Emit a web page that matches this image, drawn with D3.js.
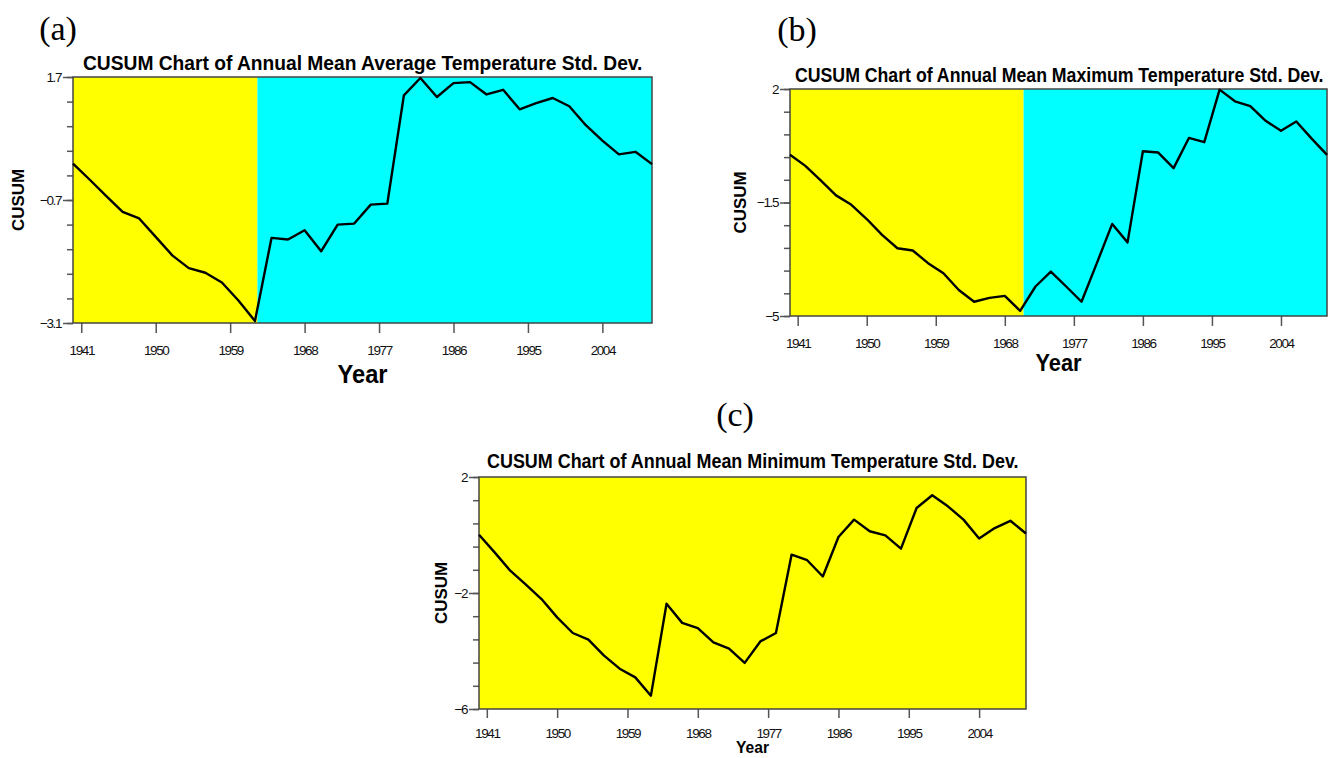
<!DOCTYPE html>
<html>
<head>
<meta charset="utf-8">
<script src="https://cdn.jsdelivr.net/npm/d3@7"></script>
<style>
  body { margin: 0; background: #fff; }
  svg { display: block; }
</style>
</head>
<body>
<div id="chart"></div>
<script>
const YELLOW = "#ffff00";
const CYAN = "#00ffff";
const AXIS = "#555";

// years sampled every two years
const years = [1940, 1942, 1944, 1946, 1948, 1950, 1952, 1954, 1956, 1958,
               1960, 1962, 1964, 1966, 1968, 1970, 1972, 1974, 1976, 1978,
               1980, 1982, 1984, 1986, 1988, 1990, 1992, 1994, 1996, 1998,
               2000, 2002, 2004, 2006, 2008, 2010];

const avgCusum = [0.01, -0.30, -0.62, -0.93, -1.06, -1.42, -1.78, -2.03, -2.12, -2.31,
                  -2.66, -3.06, -1.44, -1.47, -1.29, -1.70, -1.18, -1.16, -0.79, -0.77,
                  1.34, 1.68, 1.31, 1.58, 1.60, 1.36, 1.45, 1.07, 1.19, 1.29,
                  1.13, 0.76, 0.46, 0.19, 0.24, 0.00];

const maxCusum = [-0.03, -0.37, -0.82, -1.28, -1.57, -2.01, -2.50, -2.91, -2.98, -3.37,
                  -3.68, -4.20, -4.56, -4.44, -4.38, -4.84, -4.09, -3.63, -4.09, -4.56,
                  -3.37, -2.16, -2.73, 0.08, 0.04, -0.44, 0.49, 0.36, 1.98, 1.62,
                  1.47, 1.02, 0.71, 1.00, 0.47, -0.03];

const minCusum = [0.01, -0.60, -1.23, -1.71, -2.21, -2.84, -3.38, -3.61, -4.16, -4.61,
                  -4.91, -5.54, -2.37, -3.03, -3.21, -3.70, -3.92, -4.41, -3.67, -3.38,
                  -0.68, -0.87, -1.43, -0.07, 0.53, 0.13, -0.01, -0.47, 0.93, 1.37,
                  0.99, 0.53, -0.12, 0.24, 0.49, 0.05];

const xTicks = [1941, 1950, 1959, 1968, 1977, 1986, 1995, 2004];
const aYTicks = [-3.1, -0.7, 1.7];
const bYTicks = [-5, -1.5, 2];
const cYTicks = [-6, -2, 2];

// year where the background switches from yellow to cyan (null = none)
const aShift = 1962.3;
const bShift = 1970.45;

const W = 1341, H = 758;
const svg = d3.select("#chart").append("svg")
    .attr("width", W)
    .attr("height", H)
    .style("font-family", "'Liberation Sans', Arial, sans-serif");

// squeeze a text horizontally so it spans width w (condensed look of the original)
function fit(sel, x, y, w, anchor, rotate) {
    let natural = sel.node().getComputedTextLength();
    let k = Math.min(1, w / natural);
    let rot = rotate ? ` rotate(${rotate})` : "";
    sel.attr("text-anchor", anchor)
        .attr("transform", `translate(${x},${y})${rot} scale(${k},1)`);
    return sel;
}

function panel(opts) {
    let { left, right, top, bottom, values, yTicks, shift } = opts;
    let g = svg.append("g");

    let x = d3.scaleLinear().domain([1940, 2010]).range([left, right]);
    let y = d3.scaleLinear().domain([yTicks[0], yTicks[2]]).range([bottom, top]);

    // background regions
    let split = shift == null ? 2010 : shift;
    g.append("rect")
        .attr("x", x(1940)).attr("y", top)
        .attr("width", x(split) - x(1940)).attr("height", bottom - top)
        .attr("fill", YELLOW);
    if (shift != null) {
        g.append("rect")
            .attr("x", x(split)).attr("y", top)
            .attr("width", x(2010) - x(split)).attr("height", bottom - top)
            .attr("fill", CYAN);
    }

    // minor + major y ticks (10 subdivisions)
    let lo = yTicks[0], hi = yTicks[2];
    let ySub = d3.range(11).map(i => lo + i * (hi - lo) / 10);
    let yAxis = g.append("g")
        .attr("transform", `translate(${left},0)`)
        .call(d3.axisLeft(y).tickValues(ySub).tickSize(6).tickFormat(""));
    yAxis.select(".domain").remove();
    yAxis.selectAll("line").attr("stroke", AXIS).attr("stroke-width", 1.5);

    let yMajor = g.append("g")
        .attr("transform", `translate(${left},0)`)
        .call(d3.axisLeft(y).tickValues(yTicks).tickSize(10).tickPadding(2)
              .tickFormat(d3.format("")));
    yMajor.select(".domain").remove();
    yMajor.selectAll("line").attr("stroke", AXIS).attr("stroke-width", 1.5);
    yMajor.selectAll("text")
        .attr("fill", "#111")
        .style("font-size", "13.5px")
        .style("letter-spacing", "-1.4px");

    let xAxis = g.append("g")
        .attr("transform", `translate(0,${bottom})`)
        .call(d3.axisBottom(x).tickValues(xTicks).tickSize(opts.xTickLen || 10)
              .tickPadding(opts.xPad || 12).tickFormat(d3.format("d")));
    xAxis.select(".domain").remove();
    xAxis.selectAll("line").attr("stroke", AXIS).attr("stroke-width", 1.5);
    xAxis.selectAll("text")
        .attr("fill", "#111")
        .style("font-size", "13.5px")
        .style("letter-spacing", "-1.4px");

    // frame
    g.append("rect")
        .attr("x", left).attr("y", top)
        .attr("width", right - left).attr("height", bottom - top)
        .attr("fill", "none")
        .attr("stroke", "#444")
        .attr("stroke-width", 1.5);

    let line = d3.line()
        .x((d, i) => x(years[i]))
        .y(d => y(d));
    g.append("path")
        .datum(values)
        .attr("d", line)
        .attr("fill", "none")
        .attr("stroke", "#000")
        .attr("stroke-width", 2.4)
        .attr("stroke-linejoin", "round");

    // titles and labels
    let title = g.append("text")
        .style("font-size", "21px")
        .style("font-weight", "bold")
        .text(opts.title);
    fit(title, opts.titleX, opts.titleY, opts.titleW, "start");

    let cusum = g.append("text")
        .style("font-size", "17px")
        .style("font-weight", "bold")
        .text("CUSUM");
    fit(cusum, opts.cusumX, (top + bottom) / 2, 62, "middle", -90);

    let year = g.append("text")
        .style("font-size", opts.yearSize + "px")
        .style("font-weight", "bold")
        .text("Year");
    fit(year, (left + right) / 2, opts.yearY, opts.yearW, "middle");

    svg.append("text")
        .attr("x", opts.tagX).attr("y", opts.tagY)
        .attr("text-anchor", "middle")
        .style("font-family", "'Liberation Serif', 'Times New Roman', serif")
        .style("font-size", "34px")
        .text(opts.tag);
}

panel({
    left: 73, right: 652, top: 77, bottom: 323,
    values: avgCusum, yTicks: aYTicks, shift: aShift,
    title: "CUSUM Chart of Annual Mean Average Temperature Std. Dev.",
    titleX: 83, titleY: 70, titleW: 560,
    cusumX: 24, yearY: 383, yearW: 50, yearSize: 26,
    tag: "(a)", tagX: 58, tagY: 40
});

panel({
    left: 790, right: 1327, top: 89, bottom: 316,
    values: maxCusum, yTicks: bYTicks, shift: bShift,
    title: "CUSUM Chart of Annual Mean Maximum Temperature Std. Dev.",
    titleX: 795, titleY: 82, titleW: 529,
    cusumX: 746, yearY: 371, yearW: 46, yearSize: 24,
    tag: "(b)", tagX: 797, tagY: 41
});

panel({
    left: 479, right: 1026, top: 477, bottom: 709,
    values: minCusum, yTicks: cYTicks, shift: null,
    title: "CUSUM Chart of Annual Mean Minimum Temperature Std. Dev.",
    titleX: 487, titleY: 468, titleW: 532,
    cusumX: 447, yearY: 753, yearW: 33, yearSize: 16,
    xTickLen: 9, xPad: 10,
    tag: "(c)", tagX: 735, tagY: 426
});
</script>
</body>
</html>
